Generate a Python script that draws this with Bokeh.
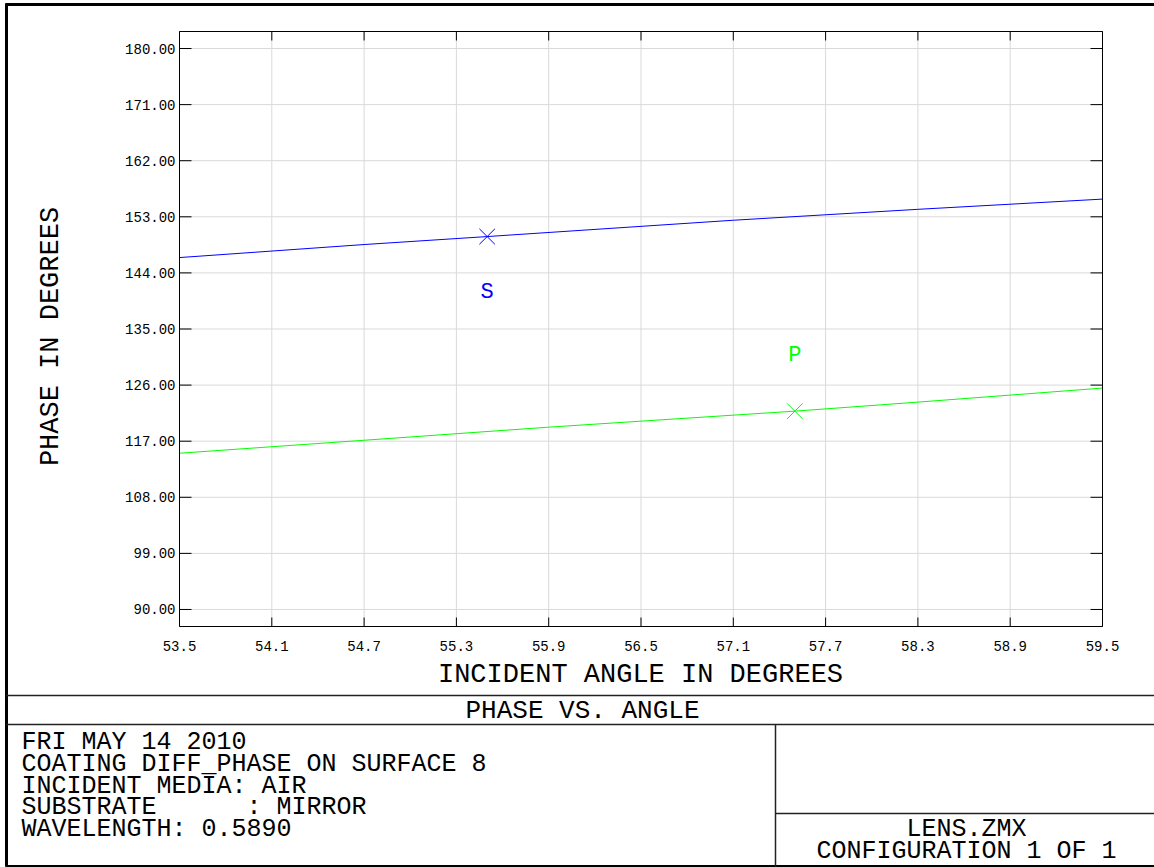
from bokeh.plotting import figure
from bokeh.models import Range1d, ColumnDataSource
from bokeh.core.properties import value
from bokeh.embed import file_html
from bokeh.resources import INLINE
import math
import re

# ---------------- data ----------------
angle_s = [53.5, 54.7, 55.5, 57.1, 58.3, 59.5]
phase_s = [146.46, 148.55, 149.83, 152.45, 154.2, 155.84]
angle_p = [53.5, 54.7, 55.9, 57.5, 58.3, 59.5]
phase_p = [115.07, 117.15, 119.25, 121.82, 123.27, 125.52]

series_names = ["S", "P"]
series_colors = ["#0000ff", "#00ff00"]
marker_angle = [55.5, 57.5]
marker_phase = [149.83, 121.82]
label_angle = [55.5, 57.5]
label_phase = [140.8, 130.8]

x_ticks = [53.5, 54.1, 54.7, 55.3, 55.9, 56.5, 57.1, 57.7, 58.3, 58.9, 59.5]
y_ticks = [90, 99, 108, 117, 126, 135, 144, 153, 162, 171, 180]
x_lim = (53.5, 59.5)
y_lim = (87.27, 182.73)

x_title = "INCIDENT ANGLE IN DEGREES"
y_title = "PHASE IN DEGREES"
plot_title = "PHASE VS. ANGLE"
info_lines = ["FRI MAY 14 2010",
              "COATING DIFF_PHASE ON SURFACE 8",
              "INCIDENT MEDIA: AIR",
              "SUBSTRATE      : MIRROR",
              "WAVELENGTH: 0.5890"]
file_lines = ["LENS.ZMX", "CONFIGURATION 1 OF 1"]

# ---------------- layout constants (canvas pixels) ----------------
W, H = 1154, 867
FL, FT, FR, FB = 179, 31, 1102, 626
FONT = "Liberation Mono"

# page figure: default ranges are canvas pixels (y downwards)
p = figure(width=W, height=H, output_backend="svg", toolbar_location=None,
           x_range=Range1d(0, W), y_range=Range1d(H, 0),
           x_axis_type=None, y_axis_type=None, min_border=0,
           background_fill_color="white", border_fill_color="white")
p.outline_line_color = None
p.grid.visible = False

# data ranges mapped onto the plot frame
kx = (FR - FL) / (x_lim[1] - x_lim[0])
ky = (FB - FT) / (y_lim[1] - y_lim[0])
p.extra_x_ranges = {"ang": Range1d(x_lim[0] - FL / kx, x_lim[1] + (W - FR) / kx)}
p.extra_y_ranges = {"ph": Range1d(y_lim[0] - (H - FB) / ky, y_lim[1] + FT / ky)}

GRID = "#d9d9d9"
# grid lines
p.segment(x0=x_ticks, x1=x_ticks, y0=[FT] * len(x_ticks), y1=[FB] * len(x_ticks),
          x_range_name="ang", line_color=GRID, line_width=1)
p.segment(x0=[FL] * len(y_ticks), x1=[FR] * len(y_ticks), y0=y_ticks, y1=y_ticks,
          y_range_name="ph", line_color=GRID, line_width=1)

# ---------------- series ----------------
p.line(angle_s, phase_s, x_range_name="ang", y_range_name="ph",
       line_color=series_colors[0], line_width=1)
p.line(angle_p, phase_p, x_range_name="ang", y_range_name="ph",
       line_color=series_colors[1], line_width=1)
msrc = ColumnDataSource(dict(x=marker_angle, y=marker_phase, c=series_colors))
p.scatter("x", "y", source=msrc, x_range_name="ang", y_range_name="ph",
          marker="x", size=22, line_color="c", line_width=1)
lsrc = ColumnDataSource(dict(x=label_angle, y=label_phase, t=series_names, c=series_colors))
p.text("x", "y", text="t", source=lsrc, x_range_name="ang", y_range_name="ph",
       text_color="c", text_font=value(FONT), text_font_size="22px",
       text_align="center", text_baseline="middle")

# frame
p.quad(left=[FL], right=[FR], top=[FT], bottom=[FB], fill_color=None,
       line_color="black", line_width=1)

# inward ticks
n = len(y_ticks)
p.segment(x0=[FL] * n, x1=[FL + 12] * n, y0=y_ticks, y1=y_ticks,
          y_range_name="ph", line_color="black", line_width=1)
p.segment(x0=[FR - 12] * n, x1=[FR] * n, y0=y_ticks, y1=y_ticks,
          y_range_name="ph", line_color="black", line_width=1)
m = len(x_ticks)
p.segment(x0=x_ticks, x1=x_ticks, y0=[FB] * m, y1=[FB - 9] * m,
          x_range_name="ang", line_color="black", line_width=1)
p.segment(x0=x_ticks, x1=x_ticks, y0=[FT] * m, y1=[FT + 9] * m,
          x_range_name="ang", line_color="black", line_width=1)

# tick labels
p.text(x=[FL - 4] * n, y=y_ticks, text=["%.2f" % v for v in y_ticks],
       y_range_name="ph", text_font=value(FONT), text_font_size="14px",
       text_align="right", text_baseline="middle", text_color="black")
p.text(x=x_ticks, y=[645] * m, text=["%.1f" % v for v in x_ticks],
       x_range_name="ang", text_font=value(FONT), text_font_size="14px",
       text_align="center", text_baseline="middle", text_color="black")

# ---------------- page decorations ----------------
# outer border
p.segment(x0=[6, 5, 5], x1=[6, W + 2, W + 2], y0=[3, 4, 866], y1=[866, 4, 866],
          line_color="black", line_width=3)
# separators
p.segment(x0=[6, 6, 775, 775], x1=[W + 2, W + 2, 775, W + 2],
          y0=[695, 724, 724, 813], y1=[695, 724, 866, 813],
          line_color="#222222", line_width=1.5)


def keep_spaces(t):
    # SVG collapses runs of spaces; keep the column alignment of the original
    return re.sub(r" {2,}", lambda mm: "\u00a0" * len(mm.group(0)), t)


# titles
p.text(x=[640], y=[674], text=[x_title], text_font=value(FONT), text_font_size="27px",
       text_align="center", text_baseline="middle", text_color="black")
p.text(x=[50], y=[336], text=[y_title], text_font=value(FONT), text_font_size="27px",
       text_align="center", text_baseline="middle", text_color="black",
       angle=math.pi / 2)
p.text(x=[582], y=[710], text=[plot_title], text_font=value(FONT), text_font_size="26px",
       text_align="center", text_baseline="middle", text_color="black")
p.text(x=[21] * len(info_lines), y=[742 + i * 21.8 for i in range(len(info_lines))],
       text=[keep_spaces(t) for t in info_lines], text_font=value(FONT),
       text_font_size="25px", text_align="left", text_baseline="middle",
       text_color="black")
p.text(x=[966], y=[829], text=[file_lines[0]], text_font=value(FONT),
       text_font_size="25px", text_align="center", text_baseline="middle",
       text_color="black")
p.text(x=[966], y=[851], text=[file_lines[1]], text_font=value(FONT),
       text_font_size="25px", text_align="center", text_baseline="middle",
       text_color="black")

open("out.html", "w").write(file_html(p, INLINE))
